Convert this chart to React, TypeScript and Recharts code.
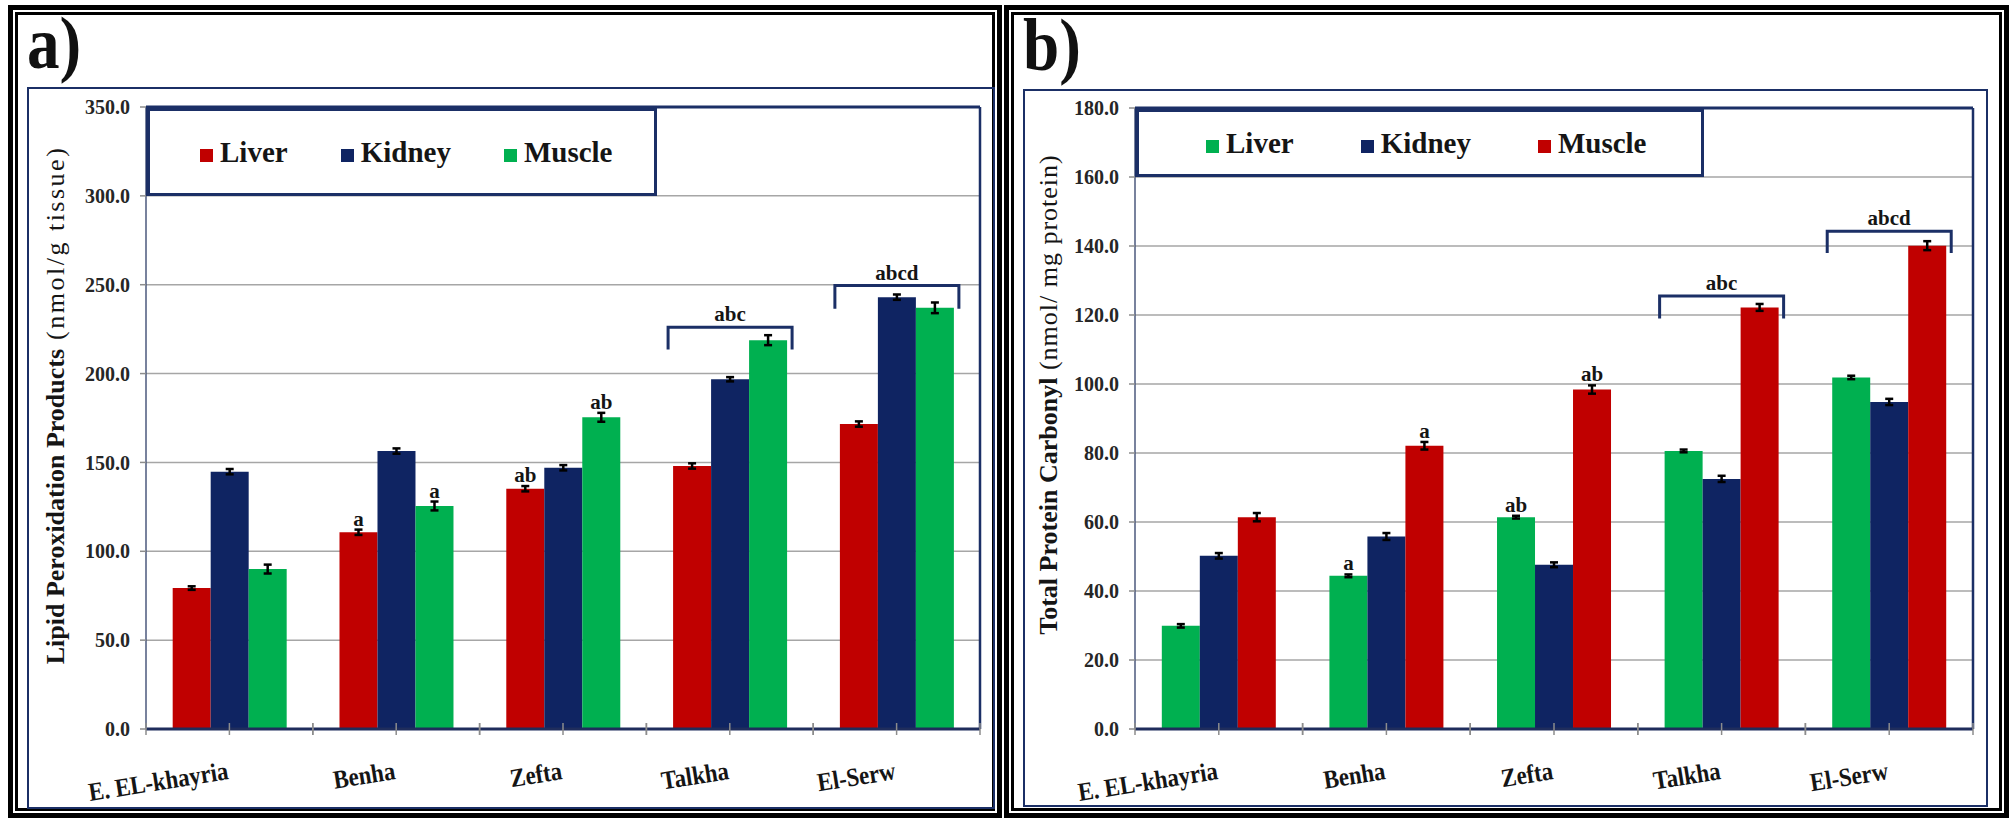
import React from "react";
import {
  BarChart,
  Bar,
  XAxis,
  YAxis,
  CartesianGrid,
  ErrorBar,
  LabelList,
  ReferenceLine,
} from "recharts";

// ---------------------------------------------------------------------------
// Data
// ---------------------------------------------------------------------------

const SITES = ["E. EL-khayria", "Benha", "Zefta", "Talkha", "El-Serw"];
const TISSUES = ["Liver", "Kidney", "Muscle"];

// a) lipid peroxidation products (nmol/g tissue)
const LPO_LIVER = [79.3, 110.7, 135.2, 148.0, 171.6];
const LPO_LIVER_ERR = [1.0, 1.5, 1.5, 1.5, 1.5];
const LPO_KIDNEY = [144.8, 156.4, 147.0, 196.8, 243.0];
const LPO_KIDNEY_ERR = [1.5, 1.5, 1.5, 1.2, 1.5];
const LPO_MUSCLE = [90.0, 125.5, 175.4, 218.8, 237.0];
const LPO_MUSCLE_ERR = [2.5, 2.5, 2.5, 2.8, 3.0];
const LPO_TICKS = [0, 50, 100, 150, 200, 250, 300, 350];
const LPO_BRACKET_TOP = [0, 0, 0, 226, 249.5];
const LPO_BRACKET_LEG = [0, 0, 0, 213.5, 236.5];

// b) total protein carbonyl (nmol/ mg protein)
const PC_LIVER = [29.9, 44.4, 61.4, 80.6, 101.9];
const PC_LIVER_ERR = [0.5, 0.4, 0.4, 0.4, 0.5];
const PC_KIDNEY = [50.2, 55.8, 47.6, 72.5, 94.8];
const PC_KIDNEY_ERR = [0.8, 1.0, 0.7, 0.9, 0.9];
const PC_MUSCLE = [61.4, 82.1, 98.4, 122.2, 140.1];
const PC_MUSCLE_ERR = [1.2, 1.1, 1.2, 1.0, 1.3];
const PC_TICKS = [0, 20, 40, 60, 80, 100, 120, 140, 160, 180];
const PC_BRACKET_TOP = [0, 0, 0, 125.5, 144.3];
const PC_BRACKET_LEG = [0, 0, 0, 119, 138];

// significance letters (same pattern in both panels)
const LIVER_LETTERS = ["", "a", "ab", "", ""];
const MUSCLE_LETTERS = ["", "a", "ab", "", ""];
const GROUP_LETTERS = ["", "", "", "abc", "abcd"];

// ---------------------------------------------------------------------------
// Styling
// ---------------------------------------------------------------------------

const SERIF = '"Liberation Serif", "Times New Roman", serif';
const RED = "#c00000";
const BLUE = "#0f2462";
const GREEN = "#00b050";
const NAVY = "#1b2f66";
const GRID = "#a6a6a6";
const INK = "#151515";

const lpoRows = SITES.map((site, i) => ({
  site,
  liver: LPO_LIVER[i],
  liverErr: LPO_LIVER_ERR[i],
  kidney: LPO_KIDNEY[i],
  kidneyErr: LPO_KIDNEY_ERR[i],
  muscle: LPO_MUSCLE[i],
  muscleErr: LPO_MUSCLE_ERR[i],
}));

const pcRows = SITES.map((site, i) => ({
  site,
  liver: PC_LIVER[i],
  liverErr: PC_LIVER_ERR[i],
  kidney: PC_KIDNEY[i],
  kidneyErr: PC_KIDNEY_ERR[i],
  muscle: PC_MUSCLE[i],
  muscleErr: PC_MUSCLE_ERR[i],
}));

// ---------------------------------------------------------------------------
// Label renderers
// ---------------------------------------------------------------------------

function sigLabel(letters: string[], errs: number[]) {
  // eslint-disable-next-line @typescript-eslint/no-explicit-any
  return function SigLabel(props: any) {
    const vb = props.viewBox ?? props;
    const i = props.index;
    const txt = letters[i];
    if (!txt) return null;
    const k = vb.height / Number(props.value);
    return (
      <text
        x={vb.x + vb.width / 2}
        y={vb.y - errs[i] * k - 4}
        textAnchor="middle"
        fontFamily={SERIF}
        fontWeight={700}
        fontSize={21}
        fill={INK}
      >
        {txt}
      </text>
    );
  };
}

// bracket over the whole group, hung off the last bar of the group
function bracketLabel(letters: string[], tops: number[], legs: number[]) {
  // eslint-disable-next-line @typescript-eslint/no-explicit-any
  return function Bracket(props: any) {
    const vb = props.viewBox ?? props;
    const i = props.index;
    const txt = letters[i];
    if (!txt) return null;
    const k = vb.height / Number(props.value);
    const base = vb.y + vb.height;
    const yTop = base - tops[i] * k;
    const yLeg = base - legs[i] * k;
    const x0 = vb.x - 2 * vb.width - 5;
    const x1 = vb.x + vb.width + 5;
    return (
      <g>
        <path
          d={`M${x0},${yLeg}V${yTop}H${x1}V${yLeg}`}
          fill="none"
          stroke={NAVY}
          strokeWidth={3}
        />
        <text
          x={(x0 + x1) / 2}
          y={yTop - 6}
          textAnchor="middle"
          fontFamily={SERIF}
          fontWeight={700}
          fontSize={21}
          fill={INK}
        >
          {txt}
        </text>
      </g>
    );
  };
}

function siteTick(band: number) {
  // eslint-disable-next-line @typescript-eslint/no-explicit-any
  return function SiteTick(props: any) {
    const { x, y, payload } = props;
    const ly = y + 50;
    return (
      <g>
        {[-band / 2, 0, band / 2].map((d) => (
          <line
            key={d}
            x1={x + d}
            x2={x + d}
            y1={y - 6}
            y2={y + 6}
            stroke="#8c8c8c"
            strokeWidth={1.5}
          />
        ))}
        <text
          x={0}
          y={0}
          textAnchor="end"
          transform={`translate(${x},${ly}) rotate(-9) scale(0.88,1)`}
          fontFamily={SERIF}
          fontWeight={700}
          fontSize={26}
          fill={INK}
        >
          {payload.value}
        </text>
      </g>
    );
  };
}

// eslint-disable-next-line @typescript-eslint/no-explicit-any
function AxisTitle(props: any) {
  const { viewBox, bold, unit, dx, shift, spacing } = props;
  const x = viewBox.x + dx;
  const y = viewBox.y + viewBox.height / 2 + shift;
  return (
    <text
      transform={`translate(${x},${y}) rotate(-90)`}
      textAnchor="middle"
      dy="0.35em"
      fontFamily={SERIF}
      fontSize={26}
      fill={INK}
    >
      <tspan fontWeight={700}>{bold}</tspan>
      <tspan fontWeight={400} letterSpacing={spacing}>
        {unit}
      </tspan>
    </text>
  );
}

// ---------------------------------------------------------------------------
// Panel
// ---------------------------------------------------------------------------

interface PanelProps {
  rows: typeof lpoRows;
  colors: string[];
  ticks: number[];
  max: number;
  width: number;
  left: number;
  marginLeft: number;
  marginRight: number;
  marginTop: number;
  plotWidth: number;
  titleBold: string;
  titleUnit: string;
  titleDx: number;
  titleShift: number;
  titleSpacing: number;
  bracketTop: number[];
  bracketLeg: number[];
  liverErr: number[];
  muscleErr: number[];
}

function Panel(p: PanelProps) {
  return (
    <div style={{ position: "absolute", left: p.left, top: 0 }}>
      <BarChart
        width={p.width}
        height={819}
        data={p.rows}
        margin={{ top: p.marginTop, right: p.marginRight, bottom: 30, left: p.marginLeft }}
        barCategoryGap="16%"
        barGap={0}
      >
        <CartesianGrid vertical={false} stroke={GRID} strokeWidth={1.5} />
        <XAxis
          dataKey="site"
          height={60}
          tickSize={0}
          tickMargin={0}
          tickLine={false}
          interval={0}
          axisLine={{ stroke: "#1f2d5c", strokeWidth: 3 }}
          tick={siteTick(p.plotWidth / SITES.length)}
        />
        <YAxis
          width={60}
          domain={[0, p.max]}
          ticks={p.ticks}
          tickFormatter={(v: number) => v.toFixed(1)}
          tickSize={6}
          tickMargin={10}
          tickLine={{ stroke: "#8c8c8c", strokeWidth: 1.5 }}
          axisLine={{ stroke: "#4b587d", strokeWidth: 1.5 }}
          tick={{ fontFamily: SERIF, fontWeight: 700, fontSize: 20, fill: "#262626" }}
          label={
            <AxisTitle
              bold={p.titleBold}
              unit={p.titleUnit}
              dx={p.titleDx}
              shift={p.titleShift}
              spacing={p.titleSpacing}
            />
          }
        />
        <YAxis
          yAxisId="edge"
          orientation="right"
          width={1}
          domain={[0, p.max]}
          tick={false}
          tickLine={false}
          axisLine={{ stroke: NAVY, strokeWidth: 2.5 }}
        />
        <ReferenceLine y={p.max} stroke={NAVY} strokeWidth={3} />
        <Bar dataKey="liver" fill={p.colors[0]} isAnimationActive={false}>
          <ErrorBar dataKey="liverErr" width={4} strokeWidth={2.5} stroke="#000" />
          <LabelList dataKey="liver" content={sigLabel(LIVER_LETTERS, p.liverErr)} />
        </Bar>
        <Bar dataKey="kidney" fill={p.colors[1]} isAnimationActive={false}>
          <ErrorBar dataKey="kidneyErr" width={4} strokeWidth={2.5} stroke="#000" />
        </Bar>
        <Bar dataKey="muscle" fill={p.colors[2]} isAnimationActive={false}>
          <ErrorBar dataKey="muscleErr" width={4} strokeWidth={2.5} stroke="#000" />
          <LabelList dataKey="muscle" content={sigLabel(MUSCLE_LETTERS, p.muscleErr)} />
          <LabelList
            dataKey="muscle"
            content={bracketLabel(GROUP_LETTERS, p.bracketTop, p.bracketLeg)}
          />
        </Bar>
      </BarChart>
    </div>
  );
}

function LegendBox({
  left,
  top,
  width,
  height,
  pad,
  gap,
  colors,
}: {
  left: number;
  top: number;
  width: number;
  height: number;
  pad: number;
  gap: number;
  colors: string[];
}) {
  return (
    <div
      style={{
        position: "absolute",
        left,
        top,
        width,
        height,
        boxSizing: "border-box",
        borderTop: `4px solid ${NAVY}`,
        borderLeft: `4px solid ${NAVY}`,
        borderRight: `3px solid ${NAVY}`,
        borderBottom: `3px solid ${NAVY}`,
        background: "#fff",
        display: "flex",
        alignItems: "center",
        paddingLeft: pad,
        fontFamily: SERIF,
        fontWeight: 700,
        fontSize: 29,
        color: INK,
      }}
    >
      {TISSUES.map((t, i) => (
        <span
          key={t}
          style={{ display: "flex", alignItems: "center", marginRight: gap }}
        >
          <span
            style={{
              display: "inline-block",
              width: 13,
              height: 13,
              background: colors[i],
              marginRight: 7,
              position: "relative",
              top: 3,
            }}
          />
          {t}
        </span>
      ))}
    </div>
  );
}

function Frame({ left, width }: { left: number; width: number }) {
  return (
    <div
      style={{
        position: "absolute",
        left,
        top: 5,
        width,
        height: 813,
        boxSizing: "border-box",
        border: "5px solid #000",
      }}
    >
      <div
        style={{
          position: "absolute",
          left: 2,
          top: 2,
          right: 2,
          bottom: 2,
          border: "3px solid #000",
        }}
      />
    </div>
  );
}

function Box({ left, top, width, height }: { left: number; top: number; width: number; height: number }) {
  return (
    <div
      style={{
        position: "absolute",
        left,
        top,
        width,
        height,
        boxSizing: "border-box",
        border: `2px solid ${NAVY}`,
      }}
    />
  );
}

export default function App() {
  return (
    <div
      style={{
        position: "absolute",
        left: 0,
        top: 0,
        width: 2009,
        height: 819,
        background: "#fff",
        overflow: "hidden",
      }}
    >
      <Frame left={8} width={994} />
      <Frame left={1004} width={1005} />
      <Box left={27} top={87} width={968} height={722} />
      <Box left={1023} top={89} width={965} height={718} />

      <svg
        width={2009}
        height={819}
        style={{ position: "absolute", left: 0, top: 0 }}
      >
        <text
          transform="translate(27,68) scale(0.88,1)"
          fontFamily={SERIF}
          fontWeight={700}
          fontSize={74}
          fill="#111"
        >
          a)
        </text>
        <text
          transform="translate(1023,70) scale(0.88,1)"
          fontFamily={SERIF}
          fontWeight={700}
          fontSize={74}
          fill="#111"
        >
          b)
        </text>
      </svg>

      <Panel
        rows={lpoRows}
        colors={[RED, BLUE, GREEN]}
        ticks={LPO_TICKS}
        max={350}
        width={1004}
        left={0}
        marginLeft={86}
        marginRight={23}
        marginTop={107}
        plotWidth={834}
        titleBold="Lipid Peroxidation Products"
        titleUnit=" (nmol/g tissue)"
        titleDx={-31}
        titleShift={-13}
        titleSpacing={2.5}
        bracketTop={LPO_BRACKET_TOP}
        bracketLeg={LPO_BRACKET_LEG}
        liverErr={LPO_LIVER_ERR}
        muscleErr={LPO_MUSCLE_ERR}
      />
      <Panel
        rows={pcRows}
        colors={[GREEN, BLUE, RED]}
        ticks={PC_TICKS}
        max={180}
        width={1009}
        left={1000}
        marginLeft={75}
        marginRight={35}
        marginTop={108}
        plotWidth={838}
        titleBold="Total Protein Carbonyl"
        titleUnit=" (nmol/ mg protein)"
        titleDx={-27}
        titleShift={-24}
        titleSpacing={1}
        bracketTop={PC_BRACKET_TOP}
        bracketLeg={PC_BRACKET_LEG}
        liverErr={PC_LIVER_ERR}
        muscleErr={PC_MUSCLE_ERR}
      />

      <LegendBox left={146} top={107} width={511} height={89} pad={50} gap={53} colors={[RED, BLUE, GREEN]} />
      <LegendBox left={1135} top={108} width={569} height={69} pad={67} gap={67} colors={[GREEN, BLUE, RED]} />
    </div>
  );
}
